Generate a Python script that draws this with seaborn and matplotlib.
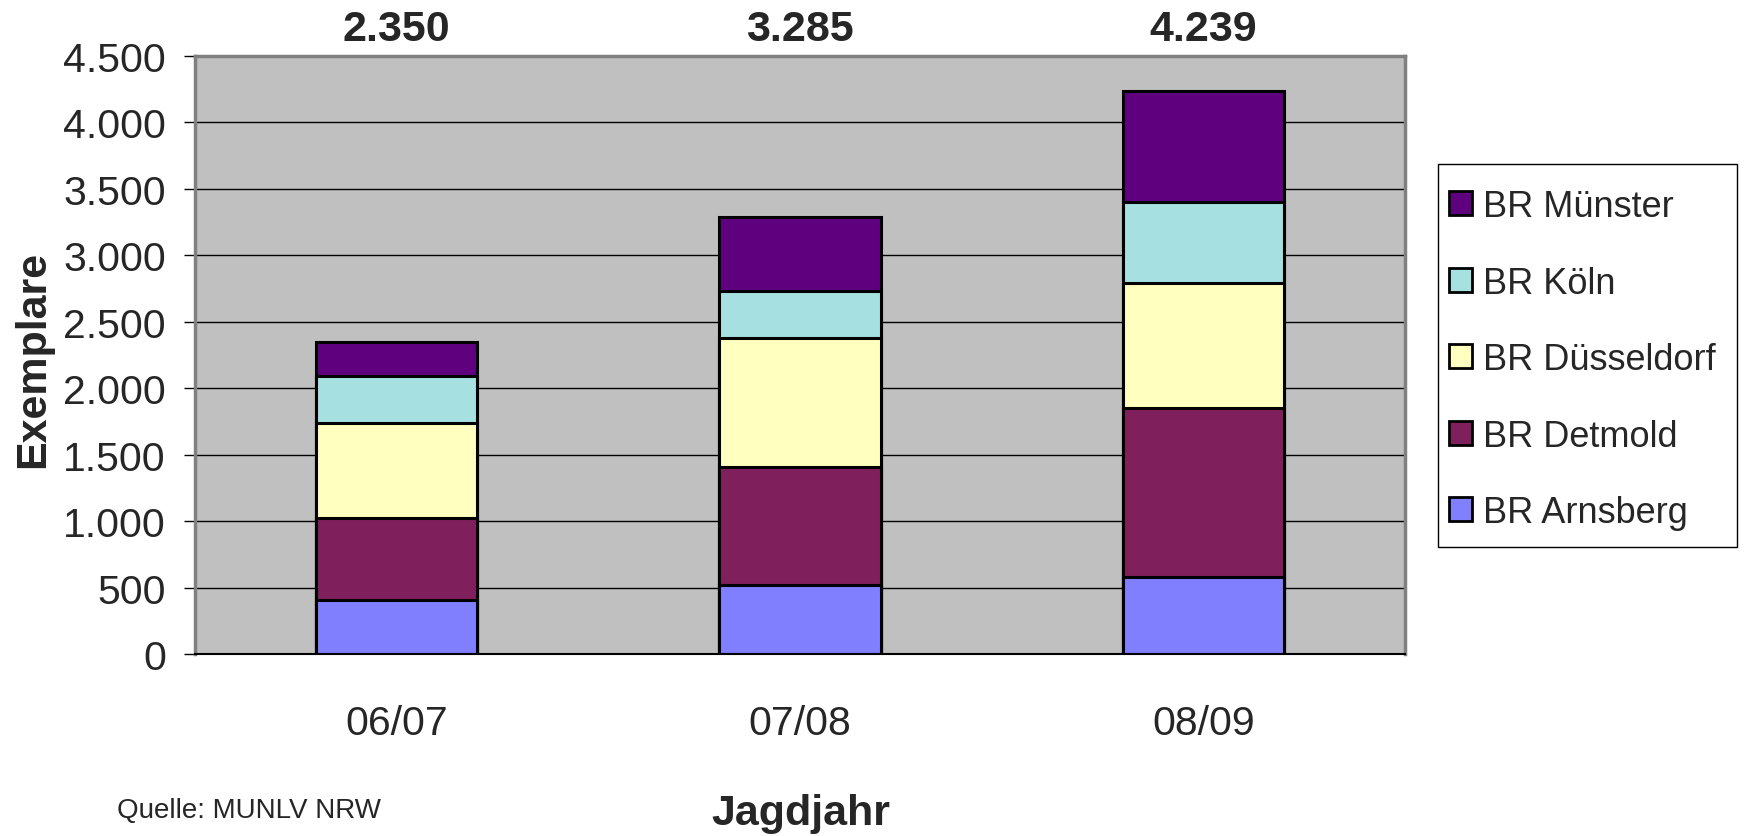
import numpy as np
import pandas as pd
import matplotlib
matplotlib.use("Agg")
import matplotlib.pyplot as plt
from matplotlib.patches import Rectangle
from matplotlib.ticker import FuncFormatter
from matplotlib.transforms import blended_transform_factory
import seaborn as sns

# Jagdstrecke nach Bezirksregierung (Exemplare)
jahre = ["06/07", "07/08", "08/09"]
arnsberg = [410, 520, 581]
detmold = [610, 891, 1270]
duesseldorf = [720, 965, 940]
koeln = [355, 357, 609]
muenster = [255, 552, 839]

regionen = ["BR Arnsberg", "BR Detmold", "BR Düsseldorf", "BR Köln", "BR Münster"]
farben = ["#8080FF", "#7F1F5C", "#FFFFC0", "#A6E0E0", "#5F007F"]

sns.set_style("white")
schrift = ["Liberation Sans", "DejaVu Sans"]
plt.rcParams["font.family"] = schrift

werte = np.array([arnsberg, detmold, duesseldorf, koeln, muenster])
kumuliert = np.cumsum(werte, axis=0)

rows = []
for r, name in enumerate(regionen):
    for j, jahr in enumerate(jahre):
        rows.append({"Jagdjahr": jahr, "Region": name, "Summe": kumuliert[r, j]})
df = pd.DataFrame(rows)

W, H = 1744, 837
fig = plt.figure(figsize=(W / 100, H / 100), dpi=100)
ax = fig.add_axes([0.1118, 0.2174, 0.8056 - 0.1118, 0.9319 - 0.2174])
ax.set_facecolor("#C0C0C0")

# stacked look: draw the cumulative totals from the top layer downwards
hue_order = regionen[::-1]
sns.barplot(data=df, x="Jagdjahr", y="Summe", hue="Region", hue_order=hue_order,
            order=jahre, palette=dict(zip(regionen, farben)), dodge=False,
            width=0.4, edgecolor="black", linewidth=2.2, errorbar=None,
            saturation=1, ax=ax)

ax.set_xlim(-0.5, 2.5)
ax.set_ylim(0, 4500)
ax.set_yticks(np.arange(0, 4501, 500))
ax.yaxis.set_major_formatter(FuncFormatter(lambda v, p: f"{int(v):,}".replace(",", ".")))
ax.set_axisbelow(True)
ax.yaxis.grid(True, color="black", linewidth=1)
ax.xaxis.grid(False)

for side in ["left", "top", "right"]:
    ax.spines[side].set_color("#808080")
    ax.spines[side].set_linewidth(2.5)
    ax.spines[side].set_visible(True)
ax.spines["bottom"].set_color("black")
ax.spines["bottom"].set_linewidth(1.5)
ax.spines["bottom"].set_visible(True)

ax.set_xticks([-0.5, 0.5, 1.5, 2.5], minor=True)
ax.tick_params(axis="x", which="major", length=0, pad=36, labelsize=29.5)
ax.tick_params(axis="x", which="minor", length=10, width=1, color="black", direction="out")
ax.tick_params(axis="y", which="major", length=8, width=1, color="black",
               direction="out", left=True, pad=13, labelsize=29.5)
ax.set_xlabel("")
ax.set_ylabel("")

# totals above the bars
summen = werte.sum(axis=0)
trans = blended_transform_factory(ax.transData, fig.transFigure)
for j, s in enumerate(summen):
    ax.text(j, 1 - 30 / H, f"{int(s):,}".replace(",", "."), transform=trans,
            ha="center", va="center", fontsize=31, fontweight="bold")

# legend: white box with a thin black frame, entries placed inside
fig.patches.append(Rectangle((1438 / W, 1 - 548 / H), 299 / W, 383 / H,
                             transform=fig.transFigure, facecolor="white",
                             edgecolor="black", linewidth=1, zorder=0))
ax.get_legend().remove()
handles, labels = ax.get_legend_handles_labels()
leg = fig.legend(handles, labels, loc="upper left",
                 bbox_to_anchor=(1449 / W, 1 - 190 / H),
                 frameon=False, fontsize=26, handlelength=0.65, handleheight=0.65,
                 handletextpad=0.3, labelspacing=1.15, borderpad=0,
                 borderaxespad=0)
for h in leg.legend_handles:
    h.set_edgecolor("black")
    h.set_linewidth(2)

fig.text(801 / W, 1 - 825 / H, "Jagdjahr", ha="center", va="baseline",
         fontsize=31, fontweight="bold")
fig.text(33 / W, 1 - 359 / H, "Exemplare", ha="center", va="center",
         rotation=90, fontsize=31, fontweight="bold")
fig.text(117 / W, 1 - 818 / H, "Quelle: MUNLV NRW", ha="left", va="baseline",
         fontsize=20)

fig.savefig("out.png", dpi=100, facecolor="white")
